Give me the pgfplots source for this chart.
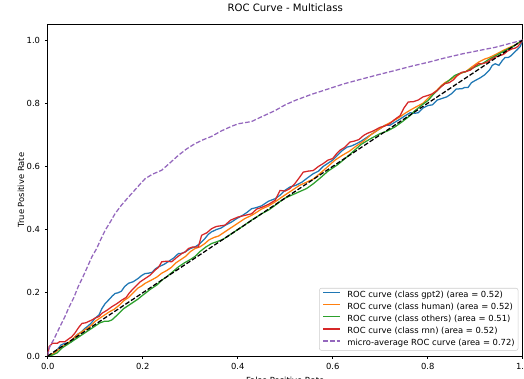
\documentclass[border=0pt]{standalone}
\usepackage{fontspec}
\setmainfont{DejaVu Sans}
\usepackage{pgfplots}
\pgfplotsset{compat=1.18}
\definecolor{c0}{HTML}{1F77B4}
\definecolor{c1}{HTML}{FF7F0E}
\definecolor{c2}{HTML}{2CA02C}
\definecolor{c3}{HTML}{D62728}
\definecolor{c4}{HTML}{9467BD}
\begin{document}
\begin{tikzpicture}
\useasboundingbox (-35.8pt,-17.25pt) rectangle (357.23pt,267pt);
\clip (-35.8pt,-17.25pt) rectangle (357.23pt,267pt);
\begin{axis}[
  scale only axis,
  width=356.25pt, height=248.8pt,
  xmin=0, xmax=1, ymin=0, ymax=1.05,
  xtick={0,0.2,0.4,0.6,0.8,1.0},
  ytick={0,0.2,0.4,0.6,0.8,1.0},
  xticklabels={0.0,0.2,0.4,0.6,0.8,1.0},
  yticklabels={0.0,0.2,0.4,0.6,0.8,1.0},
  tick align=outside, tick pos=left,
  major tick length=2.2pt,
  every tick/.style={black, line width=0.5pt},
  axis line style={line width=0.5pt},
  tick label style={font=\fontsize{6.3}{7.5}\selectfont},
  /pgf/number format/assume math mode=true,
  title={ROC Curve - Multiclass},
  title style={font=\fontsize{7.6}{9}\selectfont, at={(axis description cs:0.5,1)}, anchor=base, yshift=3.6pt, inner sep=0pt},
  xlabel={False Positive Rate},
  ylabel={True Positive Rate},
  xlabel style={font=\fontsize{6.3}{7.5}\selectfont, at={(axis description cs:0.5,-0.0623)}, anchor=north, inner sep=0pt},
  ylabel style={font=\fontsize{6.3}{7.5}\selectfont, at={(axis description cs:-0.0561,0.5)}, anchor=center, inner sep=0pt},
  legend cell align=left,
  legend image code/.code={\draw[#1] (0pt,1.9pt) -- (12.7pt,1.9pt);},
  legend style={font=\fontsize{6.3}{7.5}\selectfont, at={(axis description cs:1,0)}, anchor=south east, xshift=-3.3pt, yshift=4pt,
    draw=black!20, fill=white, fill opacity=0.8, text opacity=1, draw opacity=1, rounded corners=1.5pt, inner xsep=2.5pt, inner ysep=2pt,
    nodes={inner sep=0pt, text height=4.8pt, text depth=1.4pt}, row sep=2.9pt, column sep=4.8pt},
]
\addplot[c0, line width=0.95pt] coordinates {(0,0)(0.01,0.005)(0.015,0.015)(0.02,0.02)(0.028,0.035)(0.036,0.04)(0.043,0.04)(0.05,0.045)(0.057,0.06)(0.064,0.07)(0.07,0.075)(0.078,0.087)(0.085,0.095)(0.092,0.105)(0.1,0.12)(0.108,0.13)(0.114,0.15)(0.121,0.166)(0.13,0.18)(0.136,0.19)(0.142,0.198)(0.148,0.2)(0.155,0.205)(0.162,0.22)(0.17,0.23)(0.18,0.235)(0.19,0.245)(0.198,0.255)(0.205,0.261)(0.212,0.262)(0.22,0.265)(0.226,0.275)(0.233,0.282)(0.245,0.29)(0.255,0.3)(0.265,0.31)(0.275,0.324)(0.283,0.325)(0.29,0.33)(0.3,0.34)(0.31,0.345)(0.32,0.355)(0.33,0.37)(0.338,0.385)(0.345,0.393)(0.355,0.4)(0.365,0.405)(0.375,0.415)(0.387,0.424)(0.398,0.435)(0.41,0.445)(0.42,0.455)(0.429,0.466)(0.44,0.47)(0.45,0.475)(0.465,0.49)(0.479,0.498)(0.49,0.51)(0.5,0.525)(0.51,0.535)(0.522,0.54)(0.535,0.55)(0.548,0.565)(0.559,0.577)(0.57,0.585)(0.58,0.6)(0.59,0.61)(0.6,0.62)(0.61,0.635)(0.62,0.65)(0.63,0.661)(0.64,0.665)(0.65,0.672)(0.66,0.68)(0.67,0.69)(0.68,0.7)(0.69,0.71)(0.7,0.72)(0.71,0.73)(0.72,0.73)(0.731,0.74)(0.742,0.75)(0.752,0.76)(0.763,0.77)(0.772,0.768)(0.78,0.77)(0.79,0.785)(0.801,0.793)(0.81,0.795)(0.82,0.81)(0.83,0.815)(0.84,0.82)(0.85,0.83)(0.86,0.845)(0.872,0.846)(0.878,0.85)(0.885,0.85)(0.892,0.865)(0.9,0.872)(0.91,0.88)(0.92,0.89)(0.93,0.905)(0.936,0.92)(0.942,0.925)(0.95,0.92)(0.957,0.935)(0.963,0.945)(0.97,0.945)(0.975,0.95)(0.982,0.96)(0.99,0.972)(0.995,0.98)(1,1)};
\addlegendentry{ROC curve (class gpt2) (area = 0.52)}
\addplot[c1, line width=0.95pt] coordinates {(0,0)(0.008,0.005)(0.015,0.01)(0.022,0.02)(0.03,0.03)(0.04,0.038)(0.05,0.05)(0.06,0.065)(0.07,0.075)(0.08,0.085)(0.09,0.095)(0.1,0.11)(0.11,0.12)(0.12,0.13)(0.13,0.14)(0.14,0.148)(0.15,0.16)(0.16,0.175)(0.17,0.185)(0.18,0.2)(0.19,0.215)(0.198,0.222)(0.205,0.23)(0.218,0.24)(0.23,0.25)(0.24,0.262)(0.25,0.27)(0.26,0.28)(0.27,0.295)(0.28,0.305)(0.29,0.315)(0.3,0.33)(0.31,0.34)(0.32,0.345)(0.33,0.355)(0.34,0.368)(0.35,0.375)(0.36,0.38)(0.37,0.39)(0.385,0.405)(0.4,0.42)(0.415,0.435)(0.429,0.445)(0.44,0.455)(0.45,0.465)(0.465,0.475)(0.479,0.488)(0.49,0.5)(0.5,0.51)(0.515,0.525)(0.53,0.54)(0.545,0.55)(0.559,0.56)(0.575,0.58)(0.59,0.6)(0.605,0.62)(0.62,0.635)(0.635,0.648)(0.65,0.665)(0.665,0.68)(0.68,0.7)(0.695,0.715)(0.71,0.73)(0.725,0.742)(0.74,0.755)(0.752,0.768)(0.763,0.778)(0.775,0.788)(0.79,0.8)(0.8,0.815)(0.81,0.83)(0.82,0.842)(0.828,0.855)(0.836,0.865)(0.848,0.875)(0.86,0.885)(0.87,0.895)(0.88,0.9)(0.893,0.915)(0.907,0.93)(0.92,0.94)(0.93,0.945)(0.94,0.952)(0.95,0.96)(0.96,0.968)(0.97,0.975)(0.985,0.985)(1,1)};
\addlegendentry{ROC curve (class human) (area = 0.52)}
\addplot[c2, line width=0.95pt] coordinates {(0,0)(0.01,0.003)(0.02,0.01)(0.03,0.025)(0.04,0.035)(0.05,0.045)(0.06,0.055)(0.07,0.065)(0.08,0.075)(0.09,0.085)(0.1,0.095)(0.11,0.105)(0.12,0.11)(0.128,0.11)(0.135,0.114)(0.143,0.125)(0.15,0.135)(0.16,0.15)(0.17,0.16)(0.18,0.17)(0.19,0.18)(0.198,0.19)(0.205,0.198)(0.215,0.21)(0.23,0.225)(0.24,0.24)(0.25,0.25)(0.262,0.265)(0.275,0.282)(0.288,0.295)(0.3,0.305)(0.31,0.315)(0.32,0.33)(0.333,0.345)(0.345,0.356)(0.357,0.362)(0.37,0.37)(0.385,0.385)(0.4,0.4)(0.415,0.415)(0.429,0.43)(0.44,0.44)(0.45,0.45)(0.465,0.462)(0.479,0.477)(0.49,0.49)(0.5,0.5)(0.515,0.51)(0.53,0.52)(0.545,0.53)(0.559,0.545)(0.575,0.565)(0.59,0.585)(0.61,0.605)(0.63,0.63)(0.645,0.65)(0.66,0.67)(0.68,0.688)(0.7,0.704)(0.715,0.712)(0.731,0.725)(0.745,0.74)(0.763,0.761)(0.772,0.775)(0.78,0.785)(0.79,0.797)(0.801,0.809)(0.81,0.825)(0.82,0.84)(0.83,0.855)(0.843,0.87)(0.857,0.888)(0.868,0.895)(0.88,0.9)(0.893,0.91)(0.907,0.92)(0.918,0.928)(0.93,0.94)(0.945,0.952)(0.963,0.967)(0.98,0.98)(0.99,0.99)(1,1)};
\addlegendentry{ROC curve (class others) (area = 0.51)}
\addplot[c3, line width=0.95pt] coordinates {(0,0)(0.003,0.03)(0.01,0.04)(0.02,0.04)(0.025,0.045)(0.036,0.045)(0.045,0.055)(0.05,0.06)(0.057,0.072)(0.065,0.09)(0.072,0.103)(0.08,0.105)(0.093,0.114)(0.1,0.12)(0.108,0.125)(0.114,0.135)(0.125,0.145)(0.135,0.156)(0.145,0.165)(0.156,0.177)(0.165,0.185)(0.172,0.2)(0.184,0.219)(0.195,0.235)(0.205,0.245)(0.215,0.255)(0.226,0.272)(0.233,0.28)(0.24,0.298)(0.25,0.3)(0.261,0.298)(0.27,0.31)(0.282,0.324)(0.29,0.33)(0.296,0.34)(0.305,0.345)(0.317,0.345)(0.324,0.382)(0.335,0.39)(0.345,0.403)(0.355,0.41)(0.373,0.414)(0.385,0.43)(0.401,0.44)(0.415,0.445)(0.429,0.45)(0.44,0.465)(0.45,0.47)(0.465,0.48)(0.479,0.493)(0.489,0.524)(0.5,0.522)(0.51,0.53)(0.52,0.545)(0.53,0.565)(0.538,0.582)(0.548,0.585)(0.559,0.587)(0.57,0.6)(0.58,0.609)(0.59,0.62)(0.6,0.625)(0.608,0.64)(0.615,0.651)(0.625,0.66)(0.636,0.677)(0.645,0.68)(0.655,0.685)(0.665,0.698)(0.672,0.704)(0.685,0.712)(0.70,0.724)(0.71,0.728)(0.72,0.735)(0.73,0.748)(0.742,0.761)(0.75,0.785)(0.759,0.804)(0.77,0.805)(0.78,0.81)(0.79,0.82)(0.801,0.825)(0.81,0.83)(0.82,0.84)(0.828,0.852)(0.836,0.862)(0.845,0.865)(0.855,0.875)(0.862,0.888)(0.872,0.898)(0.88,0.9)(0.89,0.905)(0.9,0.918)(0.907,0.925)(0.915,0.925)(0.925,0.93)(0.935,0.94)(0.942,0.946)(0.95,0.95)(0.96,0.955)(0.968,0.965)(0.977,0.972)(0.985,0.975)(0.99,0.98)(0.995,0.99)(1,1)};
\addlegendentry{ROC curve (class rnn) (area = 0.52)}
\addplot[c4, line width=0.95pt, dash pattern=on 3.5pt off 1.5pt] coordinates {(0,0)(0.002,0.02)(0.006,0.035)(0.012,0.05)(0.02,0.075)(0.028,0.1)(0.036,0.124)(0.045,0.155)(0.055,0.185)(0.064,0.219)(0.074,0.25)(0.083,0.28)(0.093,0.314)(0.103,0.34)(0.112,0.37)(0.121,0.398)(0.132,0.425)(0.142,0.451)(0.155,0.477)(0.17,0.503)(0.185,0.528)(0.195,0.545)(0.205,0.561)(0.22,0.575)(0.24,0.588)(0.258,0.612)(0.275,0.635)(0.292,0.655)(0.31,0.672)(0.328,0.685)(0.345,0.695)(0.365,0.712)(0.387,0.727)(0.401,0.735)(0.429,0.742)(0.45,0.757)(0.479,0.777)(0.5,0.795)(0.521,0.809)(0.555,0.828)(0.592,0.846)(0.625,0.862)(0.662,0.877)(0.695,0.89)(0.732,0.904)(0.765,0.917)(0.802,0.930)(0.835,0.943)(0.872,0.956)(0.905,0.966)(0.942,0.977)(0.97,0.988)(1,1)};
\addlegendentry{micro-average ROC curve (area = 0.72)}
\addplot[black, line width=0.95pt, dash pattern=on 3.5pt off 1.5pt, forget plot] coordinates {(0,0)(1,1)};
\end{axis}
\end{tikzpicture}
\end{document}
